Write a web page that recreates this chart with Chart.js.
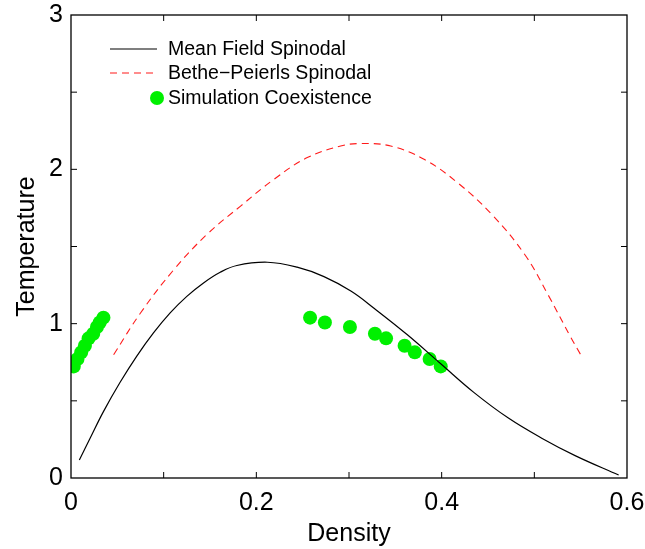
<!DOCTYPE html>
<html>
<head>
<meta charset="utf-8">
<script src="https://cdn.jsdelivr.net/npm/chart.js@4.4.1/dist/chart.umd.min.js"></script>
<style>
  html, body { margin: 0; padding: 0; background: #fff; }
  #wrap { width: 645px; height: 549px; }
</style>
</head>
<body>
<div id="wrap"><canvas id="chart" width="645" height="549"></canvas></div>
<script>
// values
var mfDensity = [0.009, 0.021, 0.035, 0.053, 0.071, 0.089, 0.107, 0.125, 0.143, 0.161, 0.179, 0.212, 0.244, 0.273, 0.302, 0.327, 0.363, 0.399, 0.435, 0.472, 0.508, 0.544, 0.591];
var mfTemp    = [0.117, 0.262, 0.430, 0.620, 0.790, 0.940, 1.070, 1.177, 1.264, 1.333, 1.377, 1.398, 1.366, 1.305, 1.211, 1.100, 0.928, 0.740, 0.553, 0.388, 0.258, 0.145, 0.019];

var bpDensity = [0.046, 0.075, 0.111, 0.147, 0.183, 0.219, 0.255, 0.291, 0.313, 0.345, 0.381, 0.417, 0.454, 0.490, 0.515, 0.539, 0.550];
var bpTemp    = [0.799, 1.069, 1.350, 1.580, 1.762, 1.935, 2.076, 2.151, 2.167, 2.151, 2.065, 1.914, 1.708, 1.445, 1.185, 0.915, 0.799];

var simDensity = [0.003, 0.007, 0.011, 0.015, 0.019, 0.024, 0.028, 0.031, 0.035,
                  0.258, 0.274, 0.301, 0.328, 0.340, 0.360, 0.371, 0.387, 0.399];
var simTemp    = [0.723, 0.771, 0.814, 0.857, 0.905, 0.935, 0.978, 1.008, 1.039,
                  1.039, 1.008, 0.978, 0.935, 0.905, 0.857, 0.814, 0.771, 0.723];

var xTickLabels = [0, 0.2, 0.4, 0.6];
var yTickLabels = [0, 1, 2, 3];
var seriesNames = ['Mean Field Spinodal', 'Bethe\u2212Peierls Spinodal', 'Simulation Coexistence'];

function pairs(xs, ys) {
    var out = [];
    for (var i = 0; i < xs.length; i++) out.push({x: xs[i], y: ys[i]});
    return out;
}

var FONT = '"Liberation Sans", Arial, Helvetica, sans-serif';
var GREEN = '#00f000';

// inward ticks on all four sides plus the frame
var frameTicks = {
    id: 'frameTicks',
    afterDatasetsDraw: function(chart) {
        var c = chart.ctx, a = chart.chartArea;
        var xs = chart.scales.x, ys = chart.scales.y;
        c.save();
        c.strokeStyle = '#000';
        c.lineWidth = 1.3;
        c.strokeRect(a.left, a.top, a.right - a.left, a.bottom - a.top);
        c.lineWidth = 1;
        c.beginPath();
        for (var i = 1; i < 6; i++) {
            var px = xs.getPixelForValue(i / 10);
            c.moveTo(px, a.bottom); c.lineTo(px, a.bottom - 6);
            c.moveTo(px, a.top); c.lineTo(px, a.top + 6);
        }
        for (var j = 1; j < 6; j++) {
            var py = ys.getPixelForValue(j / 2);
            c.moveTo(a.left, py); c.lineTo(a.left + 6, py);
            c.moveTo(a.right, py); c.lineTo(a.right - 6, py);
        }
        c.stroke();
        c.restore();
    }
};

// legend drawn inside the plot, upper left
var innerLegend = {
    id: 'innerLegend',
    afterDraw: function(chart) {
        var c = chart.ctx;
        var ds = chart.data.datasets;
        var x0 = 110, x1 = 157, tx = 168;
        var rows = [49, 73, 98];
        c.save();
        c.font = '19.5px ' + FONT;
        c.textBaseline = 'middle';
        c.fillStyle = '#000';
        for (var i = 0; i < ds.length; i++) {
            var y = rows[i];
            if (ds[i].showLine) {
                c.strokeStyle = ds[i].borderColor;
                c.lineWidth = ds[i].borderWidth;
                c.setLineDash(ds[i].borderDash || []);
                c.beginPath();
                c.moveTo(x0, y); c.lineTo(x1, y);
                c.stroke();
                c.setLineDash([]);
            } else {
                c.fillStyle = ds[i].backgroundColor;
                c.beginPath();
                c.arc(x1, y, 7, 0, Math.PI * 2);
                c.fill();
            }
            c.fillStyle = '#000';
            c.fillText(ds[i].label, tx, y + 1);
        }
        c.restore();
    }
};

new Chart(document.getElementById('chart'), {
    type: 'scatter',
    data: {
        datasets: [{
            label: seriesNames[0],
            data: pairs(mfDensity, mfTemp),
            showLine: true,
            borderColor: '#000',
            borderWidth: 1.2,
            pointRadius: 0,
            tension: 0.4
        }, {
            label: seriesNames[1],
            data: pairs(bpDensity, bpTemp),
            showLine: true,
            borderColor: '#ff1a1a',
            borderWidth: 1.1,
            borderDash: [7, 5],
            pointRadius: 0,
            tension: 0.4
        }, {
            label: seriesNames[2],
            data: pairs(simDensity, simTemp),
            showLine: false,
            backgroundColor: GREEN,
            borderColor: GREEN,
            pointRadius: 7,
            pointBorderWidth: 0
        }]
    },
    options: {
        responsive: false,
        animation: false,
        layout: { padding: { top: 15, right: 18, left: 0, bottom: 0 } },
        plugins: { legend: { display: false }, tooltip: { enabled: false } },
        scales: {
            x: {
                type: 'linear',
                min: 0, max: 0.6,
                grid: { display: false, drawTicks: false },
                border: { display: false },
                afterBuildTicks: function(s) { s.ticks = xTickLabels.map(function(v) { return {value: v}; }); },
                afterFit: function(s) { s.height = 71; s.paddingLeft = 0; s.paddingRight = 0; },
                ticks: {
                    color: '#000', padding: 10,
                    font: { family: FONT, size: 25 },
                    maxRotation: 0,
                    callback: function(v) { return String(v); }
                },
                title: {
                    display: true, text: 'Density', color: '#000',
                    font: { family: FONT, size: 25 },
                    padding: { top: 2, bottom: 0 }
                }
            },
            y: {
                type: 'linear',
                min: 0, max: 3,
                grid: { display: false, drawTicks: false },
                border: { display: false },
                afterBuildTicks: function(s) { s.ticks = yTickLabels.map(function(v) { return {value: v}; }); },
                afterFit: function(s) { s.width = 71; s.paddingTop = 0; s.paddingBottom = 0; },
                ticks: {
                    color: '#000', padding: 8,
                    font: { family: FONT, size: 25 },
                    callback: function(v) { return String(v); }
                },
                title: {
                    display: true, text: 'Temperature', color: '#000',
                    font: { family: FONT, size: 25 },
                    padding: { top: 12, bottom: 0 }
                }
            }
        }
    },
    plugins: [frameTicks, innerLegend]
});
</script>
</body>
</html>
